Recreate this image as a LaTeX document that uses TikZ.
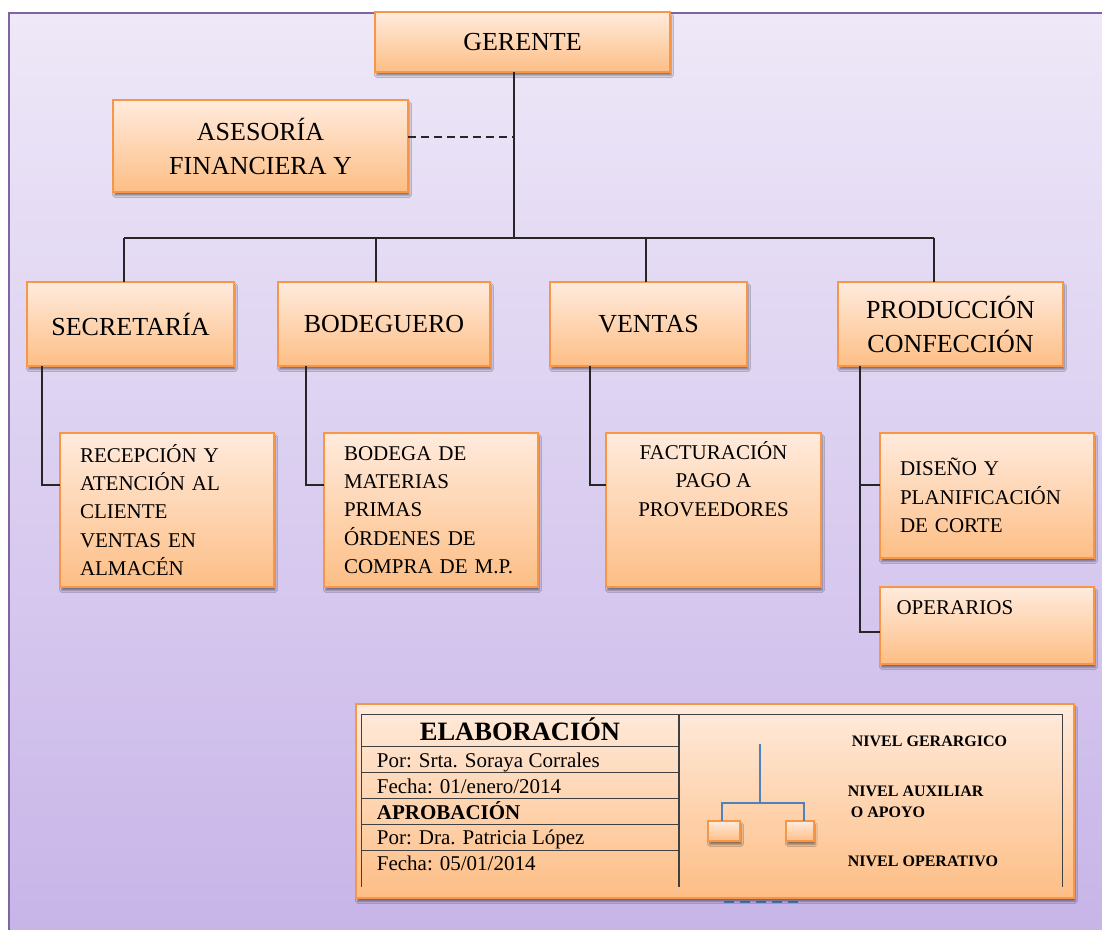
\documentclass[tikz,border=0pt]{standalone}
\usepackage{fontspec}
\setmainfont{Liberation Serif}
\usepackage{tikz}
\usetikzlibrary{positioning}
\usetikzlibrary{shadows.blur}

\definecolor{boxline}{HTML}{F79646}
\definecolor{boxtop}{HTML}{FFEBDD}
\definecolor{boxbot}{HTML}{FDBE85}
\definecolor{pagetop}{HTML}{EEE8F8}
\definecolor{pagebot}{HTML}{C7B4E8}
\definecolor{pageline}{HTML}{8064A2}
\definecolor{legblue}{HTML}{4F81BD}

\newcommand{\boxfont}{\fontsize{26}{34}\selectfont}
\newcommand{\subfont}{\fontsize{21}{28.3}\selectfont}
\newcommand{\legfont}{\bfseries\fontsize{16}{21}\selectfont}

\begin{document}
\begin{tikzpicture}[
                x=1pt, y=-1pt,
                box/.style = {
                    draw=boxline,
                    line width=2pt,
                    top color=boxtop,
                    bottom color=boxbot,
                    blur shadow={shadow xshift=1.5pt, shadow yshift=-3.5pt, shadow opacity=45},
                    anchor=north west,
                    minimum width=#1,
                    inner sep=0pt,
                    outer sep=0pt,
                    align=center,
                    font=\boxfont
                },
                box/.default = 200,
                link/.style = {line width=2pt, black!85},
                grid/.style = {line width=1.5pt, black!75},
                legline/.style = {line width=2pt, legblue},
                rowtxt/.style = {anchor=base west, inner sep=0pt, font=\subfont},
                legtxt/.style = {anchor=base west, inner sep=0pt, font=\legfont}
            ]
            \useasboundingbox (0,0) rectangle (1102,929);
            \fill[top color=pagetop, bottom color=pagebot] (9,13) rectangle (1120,945);
            \draw[pageline, line width=1.8pt] (1120,13) -- (9,13) -- (9,945);
            %
            \node[box=295, minimum height=60] (gerente) at (375,12) {GERENTE};
            \node[box=295, minimum height=92] (asesoria) at (113,100) {ASESORÍA\\FINANCIERA Y};
            %
            \node[box=207, minimum height=84] (secre) at (27,282) {SECRETARÍA};
            \node[box=212, minimum height=84] (bodeg) at (278,282) {BODEGUERO};
            \node[box=197, minimum height=84] (ventas) at (550,282) {VENTAS};
            \node[box=225, minimum height=84] (produc) at (838,282) {PRODUCCIÓN\\CONFECCIÓN};
            %
            \node[box=214, minimum height=154, font=\subfont, align=left, text width=174] (recep) at (60,433)
                {RECEPCIÓN Y\\ATENCIÓN AL\\CLIENTE\\VENTAS EN\\ALMACÉN};
            \node[box=214, minimum height=154, font=\subfont, align=left, text width=174] (bodega) at (324,433)
                {BODEGA DE\\MATERIAS\\PRIMAS\\ÓRDENES DE\\COMPRA DE M.P.};
            \node[box=215, minimum height=154,
                label={[anchor=north, align=center, font=\subfont, yshift=-5pt]north:{FACTURACIÓN\\PAGO A\\PROVEEDORES}}] (factu) at (606,433) {};
            \node[box=214, minimum height=125, font=\subfont, align=left, text width=174] (diseno) at (880,433)
                {DISEÑO Y\\PLANIFICACIÓN\\DE CORTE};
            \node[box=214, minimum height=77, below=29pt of diseno.south west, anchor=north west,
                label={[anchor=north west, font=\subfont, xshift=13pt, yshift=-10pt]north west:OPERARIOS}] (opera) {};
            %
            \coordinate (bus) at (514,238);
            \coordinate (staff) at (514,137);
            \coordinate (b1) at (124,238);
            \coordinate (b2) at (376,238);
            \coordinate (b3) at (646,238);
            \coordinate (b4) at (934,238);
            %
            \draw[link] (bus |- gerente.south) -- (bus);
            \draw[link, dashed, dash pattern=on 8pt off 5pt] (asesoria.east |- staff) -- (staff);
            \draw[link] (b1) -- (b4);
            \draw[link] (b1) -- (b1 |- secre.north);
            \draw[link] (b2) -- (b2 |- bodeg.north);
            \draw[link] (b3) -- (b3 |- ventas.north);
            \draw[link] (b4) -- (b4 |- produc.north);
            %
            \draw[link] ([xshift=15pt]secre.south west) |- ([yshift=25pt]recep.west);
            \draw[link] ([xshift=28pt]bodeg.south west) |- ([yshift=25pt]bodega.west);
            \draw[link] ([xshift=40pt]ventas.south west) |- ([yshift=25pt]factu.west);
            \draw[link] ([xshift=22pt]produc.south west) |- ([yshift=-6.5pt]opera.west);
            \draw[link] ([xshift=22pt]produc.south west) |- ([yshift=10.5pt]diseno.west);
            %
            % cuadro de elaboracion
            \draw[legline, dashed, dash pattern=on 10pt off 6pt] (724,902) -- (802,902);
            \node[box=718, minimum height=194] (panel) at (356,704) {};
            \draw[grid] (361.7,714.3) -- (1062.7,714.3);
            \draw[grid] (361.7,714.3) -- (361.7,887);
            \draw[grid] (679,714.3) -- (679,887);
            \draw[grid] (1062.7,714.3) -- (1062.7,887);
            \draw[grid] (361.7,746.7) -- (679,746.7);
            \draw[grid] (361.7,772.3) -- (679,772.3);
            \draw[grid] (361.7,798.7) -- (679,798.7);
            \draw[grid] (361.7,824.7) -- (679,824.7);
            \draw[grid] (361.7,850.7) -- (679,850.7);
            %
            \node[anchor=base, inner sep=0pt, font=\bfseries\fontsize{26.5}{30}\selectfont] (elab) at (520,740.7) {ELABORACIÓN};
            \node[rowtxt] (por1) at (376.7,767.3) {Por: Srta. Soraya Corrales};
            \node[rowtxt] (fecha1) at (376.7,793.3) {Fecha: 01/enero/2014};
            \node[rowtxt, font=\bfseries\subfont] (aprob) at (376.7,819.3) {APROBACIÓN};
            \node[rowtxt] (por2) at (376.7,844) {Por: Dra. Patricia López};
            \node[rowtxt] (fecha2) at (376.7,870) {Fecha: 05/01/2014};
            %
            \node[box=32, minimum height=20, line width=1.8pt] (leg1) at (708,821) {};
            \node[box=28, minimum height=20, line width=1.8pt] (leg2) at (785.7,821) {};
            \coordinate (legtop) at (760,744);
            \coordinate (legfork) at (760,803.3);
            \draw[legline] (legtop) -- (legfork);
            \draw[legline] ([xshift=-2pt]leg1.north) |- (legfork) -| ([xshift=4.5pt]leg2.north);
            %
            \node[legtxt] (nivel1) at (851.7,746.7) {NIVEL GERARGICO};
            \node[legtxt] (nivel2) at (847.7,796) {NIVEL AUXILIAR};
            \node[legtxt] (nivel2b) at (850.7,817.3) {O APOYO};
            \node[legtxt] (nivel3) at (847.7,866) {NIVEL OPERATIVO};
            %
        \end{tikzpicture}
\end{document}
